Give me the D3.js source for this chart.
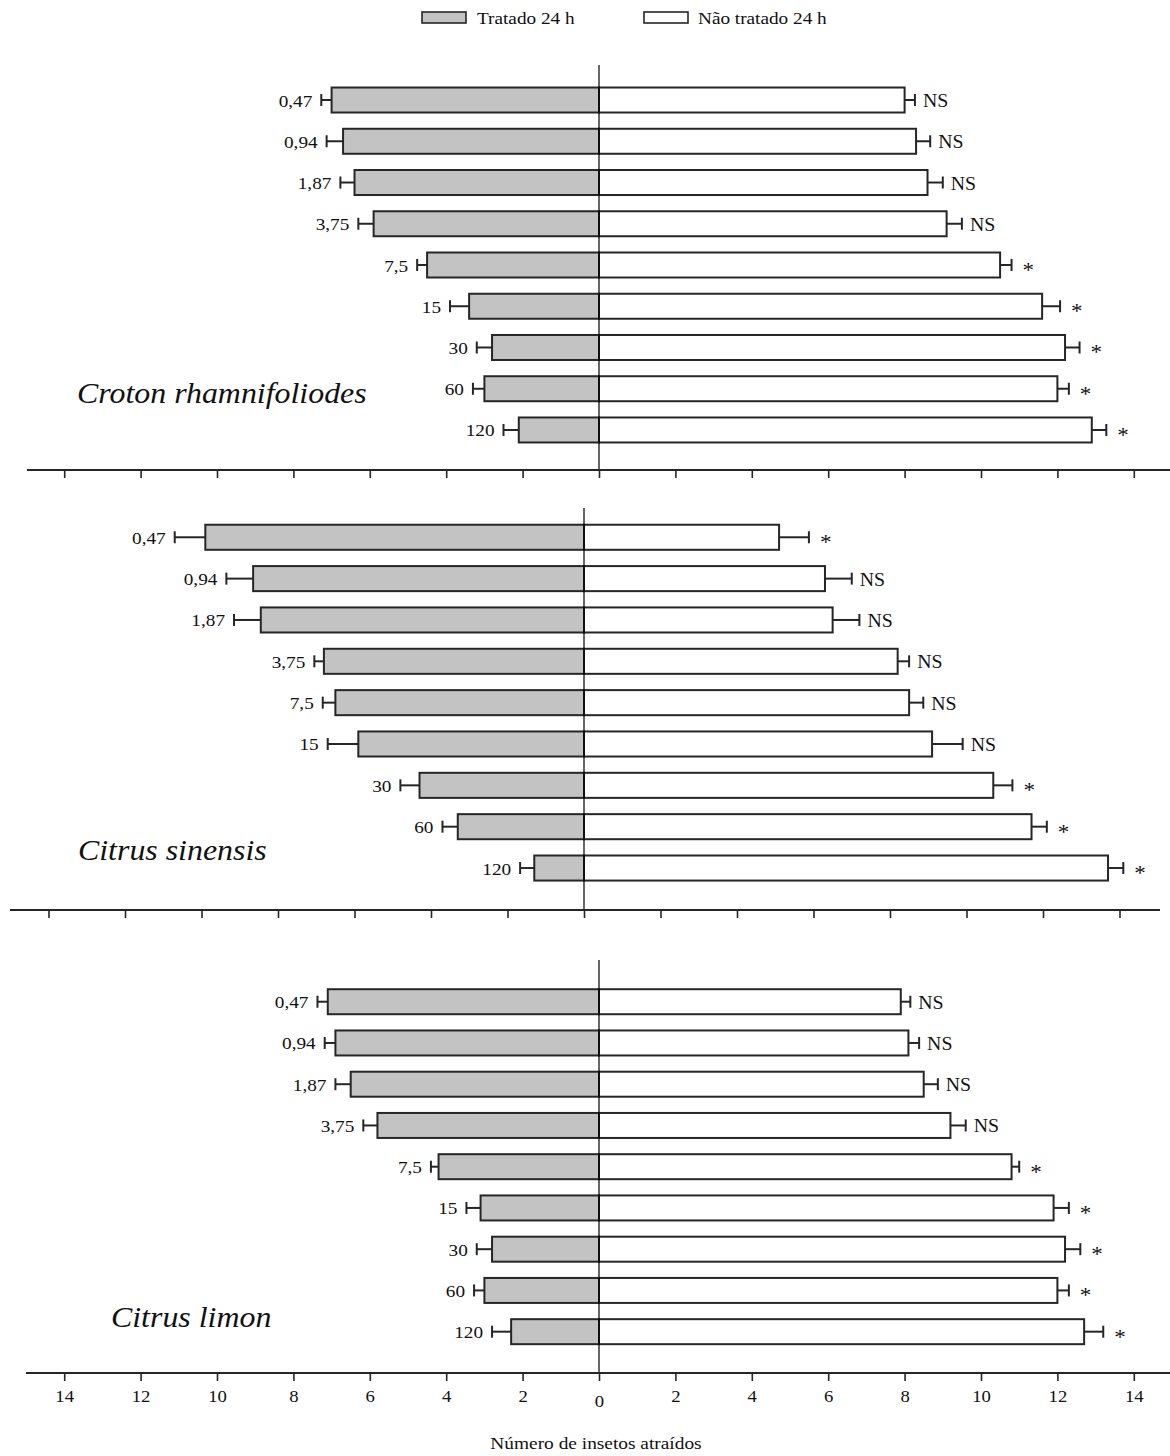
<!DOCTYPE html>
<html>
<head>
<meta charset="utf-8">
<script src="https://cdn.jsdelivr.net/npm/d3@7"></script>
<style>
  html, body { margin: 0; padding: 0; background: #ffffff; }
  svg { display: block; }
</style>
</head>
<body>
<svg id="chart" width="1170" height="1456"></svg>
<script>
// Concentrations tested (µL/L) — one bar pair per concentration
const categories = ["0,47", "0,94", "1,87", "3,75", "7,5", "15", "30", "60", "120"];
const speciesNames = ["Croton rhamnifoliodes", "Citrus sinensis", "Citrus limon"];
const seriesNames = ["Tratado 24 h", "Não tratado 24 h"];
const tickValues = [-14, -12, -10, -8, -6, -4, -2, 0, 2, 4, 6, 8, 10, 12, 14];
const axisTitle = "Número de insetos atraídos";

// Croton rhamnifoliodes
const crotonTreated      = [7.0, 6.7, 6.4, 5.9, 4.5, 3.4, 2.8, 3.0, 2.1];
const crotonTreatedErr   = [0.27, 0.43, 0.37, 0.4, 0.26, 0.5, 0.4, 0.3, 0.4];
const crotonUntreated    = [8.0, 8.3, 8.6, 9.1, 10.5, 11.6, 12.2, 12.0, 12.9];
const crotonUntreatedErr = [0.27, 0.37, 0.4, 0.4, 0.3, 0.47, 0.38, 0.3, 0.38];
const crotonSig          = ["NS", "NS", "NS", "NS", "*", "*", "*", "*", "*"];

// Citrus sinensis
const sinensisTreated      = [9.9, 8.65, 8.45, 6.8, 6.5, 5.9, 4.3, 3.3, 1.3];
const sinensisTreatedErr   = [0.8, 0.7, 0.7, 0.25, 0.33, 0.8, 0.5, 0.4, 0.37];
const sinensisUntreated    = [5.1, 6.3, 6.5, 8.2, 8.5, 9.1, 10.7, 11.7, 13.7];
const sinensisUntreatedErr = [0.78, 0.7, 0.7, 0.3, 0.37, 0.8, 0.5, 0.4, 0.4];
const sinensisSig          = ["*", "NS", "NS", "NS", "NS", "NS", "*", "*", "*"];

// Citrus limon
const limonTreated      = [7.1, 6.9, 6.5, 5.8, 4.2, 3.1, 2.8, 3.0, 2.3];
const limonTreatedErr   = [0.27, 0.28, 0.4, 0.37, 0.2, 0.37, 0.4, 0.27, 0.5];
const limonUntreated    = [7.9, 8.1, 8.5, 9.2, 10.8, 11.9, 12.2, 12.0, 12.7];
const limonUntreatedErr = [0.25, 0.28, 0.37, 0.4, 0.2, 0.4, 0.4, 0.3, 0.5];
const limonSig          = ["NS", "NS", "NS", "NS", "*", "*", "*", "*", "*"];

const panelData = [
  { name: speciesNames[0], treated: crotonTreated, treatedErr: crotonTreatedErr,
    untreated: crotonUntreated, untreatedErr: crotonUntreatedErr, sig: crotonSig },
  { name: speciesNames[1], treated: sinensisTreated, treatedErr: sinensisTreatedErr,
    untreated: sinensisUntreated, untreatedErr: sinensisUntreatedErr, sig: sinensisSig },
  { name: speciesNames[2], treated: limonTreated, treatedErr: limonTreatedErr,
    untreated: limonUntreated, untreatedErr: limonUntreatedErr, sig: limonSig }
];

// Layout of the three stacked panels
const panelLayout = [
  { center: 599, unit: 38.2, bandTop: 79.4, bandBottom: 450.6, lineTop: 65, axisY: 470,
    axisX0: 27, axisX1: 1170, tickLabels: false, nameX: 77, nameY: 403 },
  { center: 584, unit: 38.25, bandTop: 516.6, bandBottom: 888.7, lineTop: 508, axisY: 910,
    axisX0: 10, axisX1: 1160, tickLabels: false, nameX: 78, nameY: 860 },
  { center: 599, unit: 38.2, bandTop: 981.1, bandBottom: 1352.3, lineTop: 960, axisY: 1373,
    axisX0: 26, axisX1: 1170, tickLabels: true, nameX: 111, nameY: 1327 }
];

const FONT = "'Liberation Serif', 'Times New Roman', serif";
const STRETCH = 1.1;           // slightly widened serif lettering
const GRAY = "#c3c3c3";
const INK = "#262626";

const svg = d3.select("#chart");
svg.append("rect").attr("width", 1170).attr("height", 1456).attr("fill", "#fff");

function label(g, x, y, str, size, anchor, italic) {
  return g.append("text")
    .attr("transform", `translate(${x},${y}) scale(${STRETCH},1)`)
    .attr("text-anchor", anchor || "start")
    .style("font-family", FONT)
    .style("font-size", size + "px")
    .style("font-style", italic ? "italic" : "normal")
    .attr("fill", "#111")
    .text(str);
}

// Legend
const legend = svg.append("g");
legend.append("rect").attr("x", 422).attr("y", 12).attr("width", 44).attr("height", 11)
  .attr("fill", GRAY).attr("stroke", INK).attr("stroke-width", 1.6);
label(legend, 477, 24, seriesNames[0], 17.5, "start");
legend.append("rect").attr("x", 644).attr("y", 12).attr("width", 44).attr("height", 11)
  .attr("fill", "#fff").attr("stroke", INK).attr("stroke-width", 1.6);
label(legend, 698, 24, seriesNames[1], 17.5, "start");

panelData.forEach((pd, pi) => {
  const L = panelLayout[pi];
  const g = svg.append("g");

  const x = d3.scaleLinear()
    .domain([-14, 14])
    .range([L.center - 14 * L.unit, L.center + 14 * L.unit]);

  const y = d3.scaleBand()
    .domain(categories)
    .range([L.bandTop, L.bandBottom])
    .paddingInner(0.394)
    .paddingOuter(0.197);

  const rows = categories.map((c, i) => ({
    cat: c,
    t: pd.treated[i], te: pd.treatedErr[i],
    u: pd.untreated[i], ue: pd.untreatedErr[i],
    sig: pd.sig[i]
  }));

  // Error bars: whisker plus end cap on each side
  rows.forEach(r => {
    const cy = y(r.cat) + y.bandwidth() / 2;
    g.append("line").attr("x1", x(-r.t)).attr("x2", x(-(r.t + r.te)))
      .attr("y1", cy).attr("y2", cy).attr("stroke", INK).attr("stroke-width", 2);
    g.append("line").attr("x1", x(-(r.t + r.te))).attr("x2", x(-(r.t + r.te)))
      .attr("y1", cy - 6).attr("y2", cy + 6).attr("stroke", INK).attr("stroke-width", 2);
    g.append("line").attr("x1", x(r.u)).attr("x2", x(r.u + r.ue))
      .attr("y1", cy).attr("y2", cy).attr("stroke", INK).attr("stroke-width", 2);
    g.append("line").attr("x1", x(r.u + r.ue)).attr("x2", x(r.u + r.ue))
      .attr("y1", cy - 6).attr("y2", cy + 6).attr("stroke", INK).attr("stroke-width", 2);
  });

  // Treated bars (gray, left of zero)
  g.selectAll("rect.treated").data(rows).join("rect")
    .attr("class", "treated")
    .attr("x", d => x(-d.t))
    .attr("width", d => x(0) - x(-d.t))
    .attr("y", d => y(d.cat))
    .attr("height", y.bandwidth())
    .attr("fill", GRAY).attr("stroke", INK).attr("stroke-width", 2);

  // Untreated bars (white, right of zero)
  g.selectAll("rect.untreated").data(rows).join("rect")
    .attr("class", "untreated")
    .attr("x", x(0))
    .attr("width", d => x(d.u) - x(0))
    .attr("y", d => y(d.cat))
    .attr("height", y.bandwidth())
    .attr("fill", "#fff").attr("stroke", INK).attr("stroke-width", 2);

  // Concentration labels and significance marks
  rows.forEach(r => {
    const cy = y(r.cat) + y.bandwidth() / 2;
    label(g, x(-(r.t + r.te)) - 9, cy + 6.5, r.cat, 17.5, "end");
    if (r.sig === "*") {
      label(g, x(r.u + r.ue) + 11, cy + 12, r.sig, 21, "start");
    } else {
      label(g, x(r.u + r.ue) + 8, cy + 7, r.sig, 18, "start");
    }
  });

  // Zero line
  g.append("line").attr("x1", x(0)).attr("x2", x(0))
    .attr("y1", L.lineTop).attr("y2", L.axisY)
    .attr("stroke", "#000").attr("stroke-width", 1.2);

  // Horizontal axis with ticks
  const axis = d3.axisBottom(x)
    .tickValues(tickValues)
    .tickSize(8)
    .tickFormat(d => L.tickLabels ? String(Math.abs(d)) : "");
  const ag = g.append("g").attr("transform", `translate(0,${L.axisY})`).call(axis);
  ag.select(".domain").remove();
  ag.selectAll(".tick line").attr("stroke", INK).attr("stroke-width", 1.6);
  ag.selectAll(".tick text")
    .attr("y", d => d === 0 ? 34 : 29)
    .attr("dy", 0)
    .attr("transform", `scale(${STRETCH},1)`)
    .style("font-family", FONT)
    .style("font-size", "17px")
    .attr("fill", "#111");
  g.append("line").attr("x1", L.axisX0).attr("x2", L.axisX1)
    .attr("y1", L.axisY).attr("y2", L.axisY)
    .attr("stroke", INK).attr("stroke-width", 2);

  // Species name
  label(g, L.nameX, L.nameY, pd.name, 29, "start", true);
});

// Axis title
label(svg, 596, 1449, axisTitle, 17.6, "middle");
</script>
</body>
</html>
